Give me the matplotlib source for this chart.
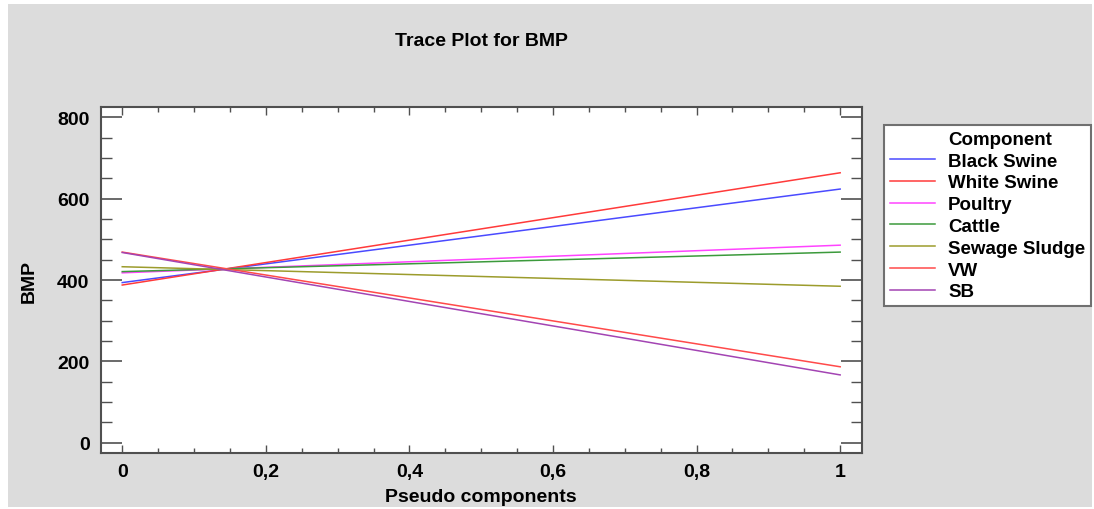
import matplotlib
matplotlib.use('Agg')
import matplotlib.pyplot as plt
import matplotlib.patches as patches
from matplotlib.lines import Line2D
from matplotlib.ticker import MultipleLocator, FuncFormatter

plt.rcParams['font.family'] = ['Liberation Sans', 'DejaVu Sans']
plt.rcParams['font.weight'] = 'bold'

# data: BMP at the two ends of the pseudo component range
x = [0, 1]
black_swine = [394, 624]
white_swine = [388, 664]
poultry = [418, 486]
cattle = [421, 469]
sewage_sludge = [433, 385]
vw = [469, 187]
sb = [468, 167]

names = ['Black Swine', 'White Swine', 'Poultry', 'Cattle', 'Sewage Sludge', 'VW', 'SB']
series = [black_swine, white_swine, poultry, cattle, sewage_sludge, vw, sb]
colors = ['#4a4aff', '#ff3a3a', '#ff44ff', '#3c9a3c', '#9c9c2c', '#ff4a4a', '#a344b3']

W, H = 1094, 510
fig = plt.figure(figsize=(W / 100, H / 100), dpi=100, facecolor='white')

# grey panel behind everything
bg = patches.Rectangle((8 / W, 2 / H), 1084 / W, 503 / H, transform=fig.transFigure,
                       facecolor='#dcdcdc', edgecolor='none', zorder=-10)
fig.patches.append(bg)

ax = fig.add_axes([100.7 / W, 56 / H, 761 / W, 345.7 / H])
ax.set_facecolor('white')

for vals, c, n in zip(series, colors, names):
    ax.plot(x, vals, color=c, lw=1.1, label=n)

ax.set_xlim(-0.03, 1.03)
ax.set_ylim(-25, 825)

ax.xaxis.set_major_locator(MultipleLocator(0.2))
ax.xaxis.set_minor_locator(MultipleLocator(0.05))
ax.yaxis.set_major_locator(MultipleLocator(200))
ax.yaxis.set_minor_locator(MultipleLocator(50))


def comma(v, pos):
    s = '%g' % round(v, 2)
    return s.replace('.', ',')


ax.xaxis.set_major_formatter(FuncFormatter(comma))

for sp in ax.spines.values():
    sp.set_color('#505050')
    sp.set_linewidth(1.5)

ax.tick_params(axis='x', which='major', direction='in', length=6, width=1,
               color='#505050', top=True, labelsize=14, pad=7)
ax.tick_params(axis='x', which='minor', direction='in', length=3.5, width=1,
               color='#505050', top=True)
ax.tick_params(axis='y', which='major', direction='in', length=15, width=1.2,
               color='#505050', right=True, labelsize=14, pad=8)
ax.tick_params(axis='y', which='minor', direction='in', length=8, width=1,
               color='#505050', right=True)

for lab in ax.get_xticklabels() + ax.get_yticklabels():
    lab.set_fontweight('bold')

ax.set_xlabel('Pseudo components', fontsize=14, fontweight='bold', labelpad=6)
ax.set_ylabel('BMP', fontsize=14, fontweight='bold', labelpad=14)

fig.text((100.7 + 761 / 2) / W, (H - 41) / H, 'Trace Plot for BMP', ha='center',
         va='center', fontsize=14, fontweight='bold')

# legend with the title entry aligned to the labels
handles = [Line2D([], [], color='none')]
labels = ['Component']
for c, n in zip(colors, names):
    handles.append(Line2D([], [], color=c, lw=1.1))
    labels.append(n)

leg = fig.legend(handles, labels, loc='upper left',
                 bbox_to_anchor=(884 / W, (H - 126) / H), frameon=True,
                 fancybox=False, framealpha=1, prop={'weight': 'bold', 'size': 13.5},
                 handlelength=2.4, handletextpad=0.72, labelspacing=0.25,
                 borderpad=0.3, borderaxespad=0)
leg.get_frame().set_edgecolor('#707070')
leg.get_frame().set_linewidth(1.5)
leg.get_frame().set_facecolor('white')

fig.savefig('out.png', dpi=100, facecolor=fig.get_facecolor())
